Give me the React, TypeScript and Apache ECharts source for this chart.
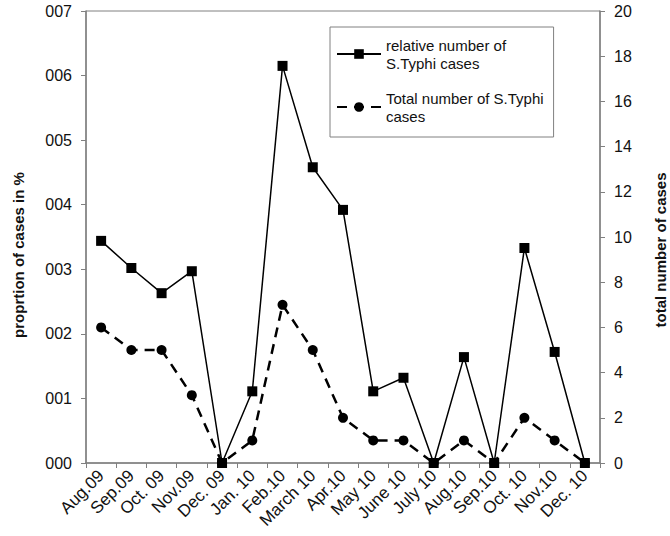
import React, { useEffect, useRef } from "react";
import * as echarts from "echarts";

const categories = ["Aug.09", "Sep.09", "Oct. 09", "Nov.09", "Dec. 09", "Jan. 10", "Feb.10", "March 10", "Apr.10", "May 10", "June 10", "July 10", "Aug.10", "Sep.10", "Oct. 10", "Nov.10", "Dec. 10"];
const relativeCases = [0.0344, 0.0302, 0.0263, 0.0297, 0, 0.0111, 0.0615, 0.0458, 0.0392, 0.0111, 0.0132, 0, 0.0164, 0, 0.0333, 0.0172, 0];
const totalCases = [6, 5, 5, 3, 0, 1, 7, 5, 2, 1, 1, 0, 1, 0, 2, 1, 0];
const leftName = "proprtion of cases in %";
const rightName = "total number of cases";
const seriesNames = ["relative number of\nS.Typhi cases", "Total number of S.Typhi\ncases"];

const FONT = "'Liberation Sans', Arial, sans-serif";
const GREY = "#808080";

export default function App() {
  const ref = useRef<HTMLDivElement>(null);
  useEffect(() => {
    const chart = echarts.init(ref.current!, null, { renderer: "svg" });
    chart.setOption({
      animation: false,
      backgroundColor: "#fff",
      textStyle: { fontFamily: FONT },
      grid: { left: 86, right: 70, top: 11, bottom: 73, show: true, borderColor: GREY, borderWidth: 1 },
      legend: {
        orient: "vertical",
        left: 330,
        top: 27,
        width: 227,
        padding: [9, 10, 12, 6],
        borderColor: GREY,
        borderWidth: 1,
        itemWidth: 44,
        itemHeight: 12,
        itemGap: 17,
        textStyle: { fontFamily: FONT, fontSize: 15, color: "#111", lineHeight: 18 },
        data: [{ name: seriesNames[0] }, { name: seriesNames[1] }],
      },
      graphic: [
        {
          type: "text",
          x: 18,
          y: 255,
          rotation: Math.PI / 2,
          style: { text: leftName, fontSize: 15, fontWeight: "bold", fill: "#111", fontFamily: FONT, align: "center", verticalAlign: "middle" },
        },
        {
          type: "text",
          x: 660,
          y: 250,
          rotation: Math.PI / 2,
          style: { text: rightName, fontSize: 15, fontWeight: "bold", fill: "#111", fontFamily: FONT, align: "center", verticalAlign: "middle" },
        },
      ],
      xAxis: {
        type: "category",
        data: categories,
        boundaryGap: true,
        axisLine: { lineStyle: { color: GREY, width: 1.5 } },
        axisTick: { show: true, length: 5, lineStyle: { color: GREY } },
        axisLabel: { rotate: 45, fontSize: 17, color: "#111", fontFamily: FONT, interval: 0, margin: 10 },
      },
      yAxis: [
        {
          type: "value",
          min: 0,
          max: 0.07,
          interval: 0.01,
          axisLine: { show: true, lineStyle: { color: GREY, width: 1.5 } },
          axisTick: { show: true, length: 5, lineStyle: { color: GREY } },
          splitLine: { show: false },
          axisLabel: {
            fontSize: 16,
            color: "#111",
            fontFamily: FONT,
            margin: 14,
            formatter: (v: number) => String(Math.round(v * 100)).padStart(3, "0"),
          },
        },
        {
          type: "value",
          min: 0,
          max: 20,
          interval: 2,
          axisLine: { show: true, lineStyle: { color: GREY, width: 1.5 } },
          axisTick: { show: true, length: 5, lineStyle: { color: GREY } },
          splitLine: { show: false },
          axisLabel: { fontSize: 16, color: "#111", fontFamily: FONT, margin: 14 },
        },
      ],
      series: [
        {
          name: seriesNames[0],
          type: "line",
          yAxisIndex: 0,
          data: relativeCases,
          symbol: "rect",
          symbolSize: 10,
          lineStyle: { color: "#000", width: 1.5 },
          itemStyle: { color: "#000" },
        },
        {
          name: seriesNames[1],
          type: "line",
          yAxisIndex: 1,
          data: totalCases,
          symbol: "circle",
          symbolSize: 10,
          lineStyle: { color: "#000", width: 2.5, type: [10, 7] },
          itemStyle: { color: "#000" },
        },
      ],
    });
    return () => chart.dispose();
  }, []);
  return <div ref={ref} style={{ width: 670, height: 536, position: "absolute", left: 0, top: 0 }} />;
}
